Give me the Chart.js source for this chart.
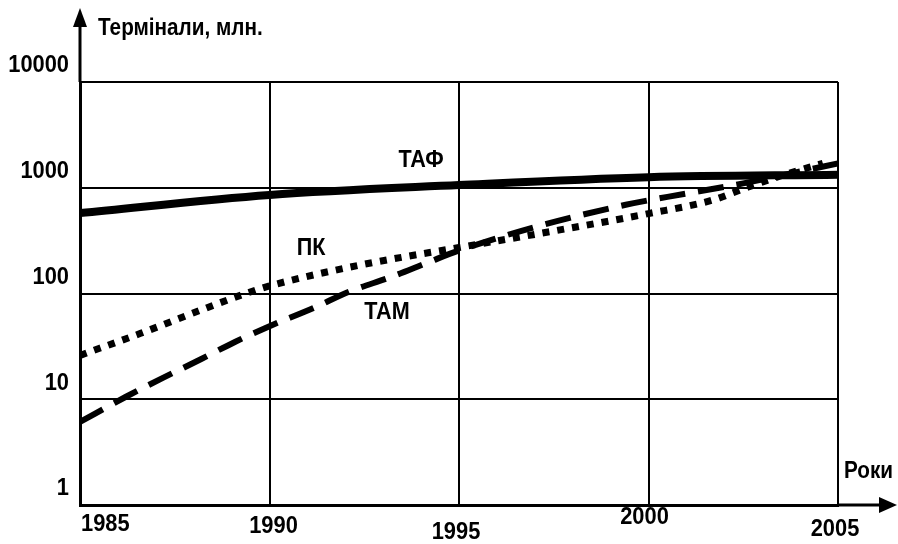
<!DOCTYPE html>
<html>
<head>
<meta charset="utf-8">
<script src="https://cdn.jsdelivr.net/npm/chart.js@4"></script>
<style>
    body { margin: 0; background: #fff; }
    #wrap { width: 898px; height: 544px; }
</style>
</head>
<body>
<div id="wrap"><canvas id="terminalsChart" width="898" height="544"></canvas></div>
<script>
// Values (log scale, millions of terminals)
const yTicks = [1, 10, 100, 1000, 10000];
const xTicks = [1985, 1990, 1995, 2000, 2005];

const tafYears  = [1985, 1990, 1995, 2000, 2005];
const tafValues = [577, 855, 1060, 1260, 1330];

const pkYears  = [1985, 1986.6, 1988.2, 1989.3, 1990, 1992.4, 1995, 1997.4, 2000, 2001.7, 2002.5, 2003.5, 2004.6];
const pkValues = [26, 42, 70, 98, 118, 186, 272, 384, 570, 766, 976, 1300, 1700];

const tamYears  = [1985, 1986.2, 1987.2, 1988.2, 1989.1, 1990, 1991.2, 1992.1, 1993.2, 1994.2, 1995, 1997.1, 1999.4, 2000.5, 2002.5, 2005];
const tamValues = [6.1, 10.5, 16, 24, 35, 49, 74, 104, 143, 198, 255, 435, 690, 820, 1100, 1700];

// Inline series labels, in data coordinates
const seriesLabels = [
    { text: 'ТАФ', year: 1994, value: 1830 },
    { text: 'ПК',  year: 1991.1, value: 270 },
    { text: 'ТАМ', year: 1993.1, value: 67 }
];

const yTitle = 'Термінали, млн.';
const xTitle = 'Роки';

const FONT = '"Liberation Sans", Arial, sans-serif';

function toPoints(xs, ys) {
    return xs.map((x, i) => ({ x: x, y: ys[i] }));
}

/**
 * Draw bold text squeezed horizontally (the original uses a narrow face)
 */
function narrowText(ctx, text, x, y, align, size, squeeze) {
    ctx.save();
    ctx.translate(x, y);
    ctx.scale(squeeze, 1);
    ctx.font = 'bold ' + size + 'px ' + FONT;
    ctx.textAlign = align;
    ctx.textBaseline = 'middle';
    ctx.fillText(text, 0, 0);
    ctx.restore();
}

/**
 * Draws axis arrows, tick labels, axis titles and series labels
 */
const decorations = {
    id: 'decorations',
    afterDraw(chart) {
        const ctx = chart.ctx;
        const area = chart.chartArea;
        const xs = chart.scales.x;
        const ys = chart.scales.y;

        ctx.save();
        ctx.fillStyle = '#000';
        ctx.strokeStyle = '#000';
        ctx.lineWidth = 3;

        // y axis arrow
        ctx.beginPath();
        ctx.moveTo(area.left, area.top);
        ctx.lineTo(area.left, 22);
        ctx.stroke();
        ctx.beginPath();
        ctx.moveTo(area.left, 8);
        ctx.lineTo(area.left - 7, 27);
        ctx.lineTo(area.left + 7, 27);
        ctx.closePath();
        ctx.fill();

        // x axis arrow
        ctx.beginPath();
        ctx.moveTo(area.right, area.bottom);
        ctx.lineTo(884, area.bottom);
        ctx.stroke();
        ctx.beginPath();
        ctx.moveTo(897, area.bottom);
        ctx.lineTo(879, area.bottom - 8);
        ctx.lineTo(879, area.bottom + 8);
        ctx.closePath();
        ctx.fill();

        // y tick labels (sit a little above their grid lines)
        yTicks.forEach(v => {
            narrowText(ctx, String(v), 69, ys.getPixelForValue(v) - 16, 'right', 23, 0.95);
        });

        // x tick labels
        const nudgeX = [0, 4, -3, -4, -3];
        const nudgeY = [20, 22, 28, 13, 25];
        xTicks.forEach((v, i) => {
            const px = xs.getPixelForValue(v);
            if (i === 0) {
                narrowText(ctx, String(v), px + 1, area.bottom + nudgeY[i], 'left', 23, 0.95);
            } else {
                narrowText(ctx, String(v), px + nudgeX[i], area.bottom + nudgeY[i], 'center', 23, 0.95);
            }
        });

        // axis titles
        narrowText(ctx, yTitle, 98, 29, 'left', 23, 0.9);
        narrowText(ctx, xTitle, 844, 472, 'left', 23, 0.9);

        // series labels
        seriesLabels.forEach(l => {
            narrowText(ctx, l.text, xs.getPixelForValue(l.year), ys.getPixelForValue(l.value), 'center', 24, 0.9);
        });

        ctx.restore();
    }
};

document.addEventListener('DOMContentLoaded', function() {
    const canvas = document.getElementById('terminalsChart');

    new Chart(canvas, {
        type: 'line',
        data: {
            datasets: [
                {
                    label: 'ТАФ',
                    data: toPoints(tafYears, tafValues),
                    borderColor: '#000',
                    borderWidth: 8,
                    borderCapStyle: 'butt',
                    cubicInterpolationMode: 'monotone'
                },
                {
                    label: 'ПК',
                    data: toPoints(pkYears, pkValues),
                    borderColor: '#000',
                    borderWidth: 7,
                    borderDash: [7, 8],
                    borderCapStyle: 'butt',
                    cubicInterpolationMode: 'monotone'
                },
                {
                    label: 'ТАМ',
                    data: toPoints(tamYears, tamValues),
                    borderColor: '#000',
                    borderWidth: 6,
                    borderDash: [26, 13],
                    borderCapStyle: 'butt',
                    cubicInterpolationMode: 'monotone'
                }
            ]
        },
        options: {
            responsive: false,
            animation: false,
            events: [],
            layout: {
                padding: { left: 80, right: 60, top: 82, bottom: 39 }
            },
            elements: {
                point: { radius: 0 },
                line: { fill: false }
            },
            plugins: {
                legend: { display: false },
                tooltip: { enabled: false }
            },
            scales: {
                x: {
                    type: 'linear',
                    min: 1985,
                    max: 2005,
                    afterBuildTicks: axis => {
                        axis.ticks = xTicks.map(v => ({ value: v }));
                    },
                    ticks: { display: false },
                    grid: { color: '#000', lineWidth: 2, drawTicks: false },
                    border: { color: '#000', width: 3 }
                },
                y: {
                    type: 'logarithmic',
                    min: 1,
                    max: 10000,
                    afterBuildTicks: axis => {
                        axis.ticks = yTicks.map(v => ({ value: v }));
                    },
                    ticks: { display: false },
                    grid: { color: '#000', lineWidth: 2, drawTicks: false },
                    border: { color: '#000', width: 3 }
                }
            }
        },
        plugins: [decorations]
    });
});
</script>
</body>
</html>
